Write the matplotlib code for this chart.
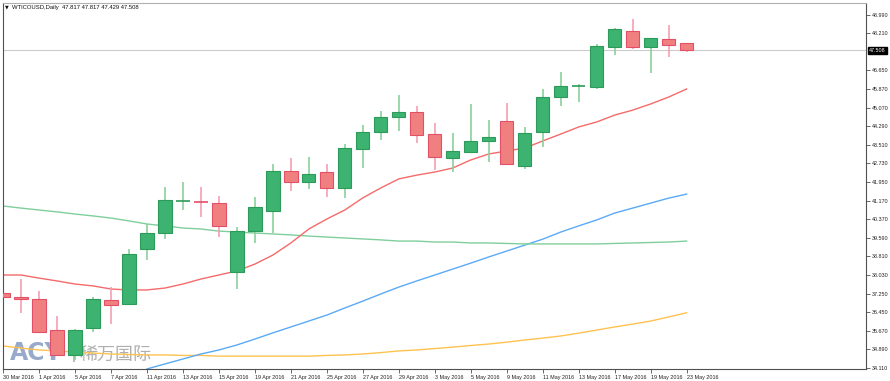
import numpy as np
import matplotlib.pyplot as plt
from matplotlib.patches import Rectangle
from matplotlib.transforms import ScaledTranslation, blended_transform_factory

# WTICOUSD daily candles, 30 Mar 2016 .. 23 May 2016 (one entry per trading day)
opens = [37.26, 37.09, 37.00, 35.71, 34.64, 35.81, 36.98, 36.82, 39.11, 39.81,
         41.12, 41.12, 41.05, 38.14, 39.90, 40.74, 42.43, 41.95, 42.36, 41.71,
         43.35, 44.07, 44.70, 44.89, 43.97, 42.95, 43.20, 43.69, 44.52, 42.64,
         44.07, 45.52, 45.97, 45.97, 47.65, 48.31, 47.65, 47.98, 47.817]
highs = [38.59, 37.86, 37.37, 36.31, 35.75, 37.12, 37.51, 39.12, 40.18, 41.73,
         41.96, 41.75, 41.37, 40.07, 41.30, 42.71, 42.97, 42.99, 42.71, 43.55,
         44.35, 44.94, 45.62, 45.15, 44.42, 44.00, 45.24, 44.56, 45.29, 44.25,
         45.86, 46.60, 46.08, 47.77, 48.43, 48.81, 48.03, 48.57, 47.817]
lows = [36.98, 36.44, 35.61, 34.61, 34.45, 35.64, 35.96, 36.77, 38.66, 39.55,
        40.77, 40.46, 39.64, 37.43, 39.36, 39.81, 41.57, 41.67, 41.33, 41.26,
        42.55, 43.72, 44.11, 43.58, 42.46, 42.38, 43.16, 42.78, 42.65, 42.48,
        43.44, 45.15, 45.33, 45.86, 47.30, 47.54, 46.56, 47.23, 47.429]
closes = [37.12, 37.00, 35.61, 34.66, 35.71, 37.00, 36.78, 38.92, 39.81, 41.19,
          41.14, 41.09, 40.11, 39.90, 40.88, 42.41, 41.96, 42.29, 41.68, 43.38,
          44.07, 44.69, 44.89, 43.92, 42.99, 43.26, 43.69, 43.86, 42.70, 44.00,
          45.52, 45.99, 46.00, 47.69, 48.40, 47.65, 48.03, 47.74, 47.508]

# moving averages
ma_red = [38.03, 38.03, 37.90, 37.78, 37.65, 37.57, 37.44, 37.40, 37.40, 37.48,
          37.65, 37.86, 38.03, 38.20, 38.49, 38.87, 39.38, 39.97, 40.39, 40.77,
          41.28, 41.70, 42.08, 42.24, 42.37, 42.54, 42.88, 43.13, 43.26, 43.38,
          43.68, 43.97, 44.27, 44.48, 44.77, 44.98, 45.24, 45.53, 45.87]
ma_green = [40.94, 40.85, 40.77, 40.69, 40.60, 40.52, 40.43, 40.31, 40.18, 40.10,
            40.01, 39.97, 39.88, 39.84, 39.80, 39.76, 39.72, 39.67, 39.63, 39.59,
            39.55, 39.51, 39.46, 39.46, 39.42, 39.42, 39.38, 39.38, 39.36, 39.34,
            39.34, 39.34, 39.34, 39.34, 39.36, 39.38, 39.40, 39.42, 39.46]
ma_blue = [np.nan] * 8 + [
    34.07, 34.28, 34.49, 34.70, 34.87, 35.08, 35.33, 35.59, 35.84, 36.09,
    36.34, 36.64, 36.93, 37.23, 37.52, 37.78, 38.03, 38.28, 38.53, 38.79,
    39.04, 39.29, 39.54, 39.84, 40.10, 40.35, 40.64, 40.85, 41.06, 41.27, 41.44]
ma_orange = [35.04, 34.95, 34.87, 34.83, 34.78, 34.74, 34.70, 34.68, 34.66, 34.66,
             34.64, 34.64, 34.61, 34.61, 34.61, 34.61, 34.61, 34.61, 34.64, 34.66,
             34.70, 34.76, 34.83, 34.87, 34.93, 34.99, 35.06, 35.12, 35.20, 35.29,
             35.37, 35.46, 35.58, 35.71, 35.84, 35.96, 36.09, 36.26, 36.44]

date_labels = ['30 Mar 2016', '1 Apr 2016', '5 Apr 2016', '7 Apr 2016', '11 Apr 2016',
               '13 Apr 2016', '15 Apr 2016', '19 Apr 2016', '21 Apr 2016', '25 Apr 2016',
               '27 Apr 2016', '29 Apr 2016', '3 May 2016', '5 May 2016', '9 May 2016',
               '11 May 2016', '13 May 2016', '17 May 2016', '19 May 2016', '23 May 2016']
price_ticks = [48.990, 48.210, 46.650, 45.870, 45.070, 44.290, 43.510, 42.730, 41.950,
               41.170, 40.370, 39.590, 38.810, 38.030, 37.250, 36.450, 35.670, 34.890, 34.110]
last_price = 47.508
header = 'WTICOUSD,Daily  47.817 47.817 47.429 47.508'

FONT = ['Liberation Sans', 'DejaVu Sans']
FS = 3.9
AXIS_COLOR = '#505050'

fig = plt.figure(figsize=(8.9, 3.81), dpi=100)
ax = fig.add_axes([3 / 890, 12 / 381, 863 / 890, 366 / 381])

n = len(opens)
xs = np.arange(n)

# watermark behind everything
ax.text(0.008, 0.012, 'ACY', transform=ax.transAxes, fontsize=17, fontweight='bold',
        color='#98aacb', family=['DejaVu Sans'], ha='left', va='bottom', zorder=0)
ax.text(0.079, 0.018, '|', transform=ax.transAxes, fontsize=13,
        color='#a8a8a8', family=['DejaVu Sans'], ha='left', va='bottom', zorder=0)
ax.text(0.089, 0.012, '稀万国际', transform=ax.transAxes, fontsize=13,
        color='#b0b0b0', family=['Noto Sans CJK SC', 'DejaVu Sans'], ha='left', va='bottom', zorder=0)

# moving averages
ax.plot(xs, ma_orange, color='#ffc250', lw=1.0, zorder=1)
ax.plot(xs, ma_blue, color='#5aaaf5', lw=1.0, zorder=1)
ax.plot(xs, ma_green, color='#7fcf9c', lw=1.0, zorder=1)
ax.plot(xs, ma_red, color='#f56a6a', lw=1.0, zorder=1)

ax.axhline(last_price, color='#cccccc', lw=0.8, zorder=1)

# candles
w = 0.74
for i in range(n):
    o, h, l, c = opens[i], highs[i], lows[i], closes[i]
    up = c >= o
    wick = '#8ccf9c' if up else '#f5a0b2'
    fill = '#3cb371' if up else '#f08080'
    edge = '#2c9a58' if up else '#e25068'
    ax.vlines(i, l, h, color=wick, lw=1.2, zorder=2)
    bottom = min(o, c)
    height = abs(c - o)
    if height < 0.06:
        ax.hlines((o + c) / 2, i - w / 2, i + w / 2, color=edge, lw=1.2, zorder=3)
    else:
        ax.add_patch(Rectangle((i - w / 2, bottom), w, height, facecolor=fill,
                               edgecolor=edge, lw=0.8, zorder=3))

ax.set_xlim(0.028, 47.97)
ax.set_ylim(34.068, 49.495)

# x axis: labels to the right of each tick
ax.set_xticks(xs[::2])
ax.set_xticklabels(date_labels, ha='left', fontsize=FS, family=FONT, color='#222222')
offset = ScaledTranslation(1 / 100, 0, fig.dpi_scale_trans)
for lbl in ax.get_xticklabels():
    lbl.set_transform(lbl.get_transform() + offset)
ax.tick_params(axis='x', length=3, width=0.6, color=AXIS_COLOR, pad=1.5)

# y axis on the right
ax.yaxis.tick_right()
ax.set_yticks(price_ticks)
ax.set_yticklabels(['%.3f' % v for v in price_ticks], fontsize=FS, family=FONT, color='#222222')
ax.tick_params(axis='y', length=3, width=0.6, color=AXIS_COLOR, pad=1.5)

trans = blended_transform_factory(ax.transAxes, ax.transData)
ax.text(1.0035, last_price, '%.3f' % last_price, transform=trans, fontsize=FS, family=FONT,
        color='white', ha='left', va='center',
        bbox=dict(facecolor='black', edgecolor='black', pad=0.8))

for side in ['left', 'right', 'bottom', 'top']:
    ax.spines[side].set_color(AXIS_COLOR)
    ax.spines[side].set_linewidth(0.8)
ax.spines['top'].set_color('#b0b0b0')

fig.text(5 / 890, 1 - 7 / 381, '\u25bc', fontsize=3.5, family=['DejaVu Sans'], color='#111111',
         ha='left', va='center')
fig.text(12 / 890, 1 - 7 / 381, header, fontsize=4.2, family=FONT, color='#111111',
         ha='left', va='center')

fig.savefig('out.png', dpi=100, facecolor='white')
